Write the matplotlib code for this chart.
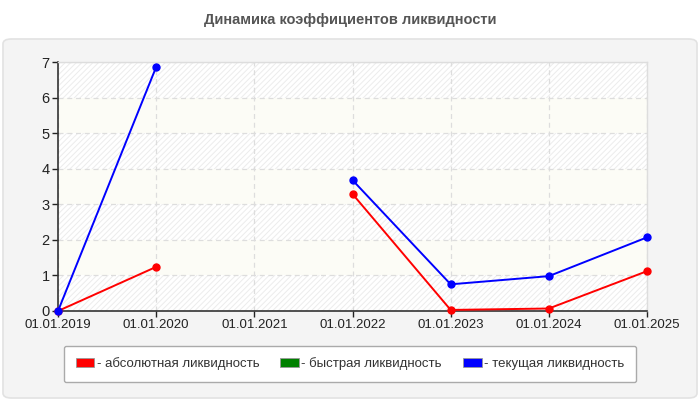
import matplotlib.pyplot as plt
import numpy as np
from matplotlib.patches import FancyBboxPatch, Rectangle

plt.rcParams['font.family'] = ['Liberation Sans', 'DejaVu Sans']
plt.rcParams['hatch.color'] = '#ececec'
plt.rcParams['hatch.linewidth'] = 0.7

dates = ['01.01.2019', '01.01.2020', '01.01.2021', '01.01.2022',
         '01.01.2023', '01.01.2024', '01.01.2025']
absolute = [0.0, 1.24, np.nan, 3.29, 0.03, 0.07, 1.12]
quick = [np.nan] * 7
current = [0.0, 6.86, np.nan, 3.68, 0.75, 0.98, 2.07]
labels = ['- абсолютная ликвидность', '- быстрая ликвидность', '- текущая ликвидность']
colors = ['#ff0000', '#008000', '#0000ff']

fig = plt.figure(figsize=(7, 4), dpi=100)
fig.patch.set_facecolor('white')

# grey panel behind the plot
panel = FancyBboxPatch((3 / 700, 2 / 400), 694 / 700, 359 / 400,
                       boxstyle='round,pad=0,rounding_size=0.012',
                       transform=fig.transFigure, facecolor='#f4f4f4',
                       edgecolor='#e2e2e2', linewidth=1.2, zorder=-5)
fig.patches.append(panel)

fig.text(0.5, 1 - 20 / 400, 'Динамика коэффициентов ликвидности',
         ha='center', va='center', fontsize=10.5, fontweight='bold', color='#555555')

ax = fig.add_axes([58 / 700, 89 / 400, 589 / 700, 249 / 400])
ax.set_facecolor('white')
x = np.arange(len(dates))

# alternating bands
for i in range(7):
    if i % 2 == 0:
        ax.add_patch(Rectangle((-0.5, i), 8, 1, facecolor='white', hatch='//////',
                               edgecolor='#ececec', linewidth=0, zorder=0))
    else:
        ax.add_patch(Rectangle((-0.5, i), 8, 1, facecolor='#fcfcf6',
                               edgecolor='none', zorder=0))

ax.grid(True, linestyle=(0, (4, 3)), color='#dddddd', linewidth=0.9, zorder=1)
ax.set_axisbelow(True)

for vals, c, lab in zip([absolute, quick, current], colors, labels):
    ax.plot(x, vals, color=c, linewidth=1.4, marker='o', markersize=5, zorder=3,
            clip_on=False)

ax.set_xlim(0, 6)
ax.set_ylim(0, 7)
ax.set_xticks(x)
ax.set_xticklabels(dates)
ax.set_yticks(range(8))
ax.tick_params(axis='both', labelsize=9.5, colors='#222222', length=4, width=1,
               direction='out', pad=2)
ax.tick_params(axis='y', labelsize=10.5)
for s in ['left', 'bottom']:
    ax.spines[s].set_color('#333333')
    ax.spines[s].set_linewidth(1.2)
for s in ['top', 'right']:
    ax.spines[s].set_color('#dddddd')
    ax.spines[s].set_linewidth(1)

handles = [Rectangle((0, 0), 1, 1, facecolor=c, edgecolor='#999999', linewidth=0.6)
           for c in colors]
leg = fig.legend(handles, labels, loc='center', bbox_to_anchor=(350 / 700, 1 - 364 / 400),
                 ncol=3, fontsize=9.5, frameon=True, fancybox=True, edgecolor='#aaaaaa',
                 facecolor='white', framealpha=1, handlelength=1.4, handleheight=0.7,
                 handletextpad=0.2, columnspacing=1.6, borderpad=0.9)
leg.get_frame().set_linewidth(1)
for t in leg.get_texts():
    t.set_color('#333333')

fig.savefig('out.png', dpi=100)
